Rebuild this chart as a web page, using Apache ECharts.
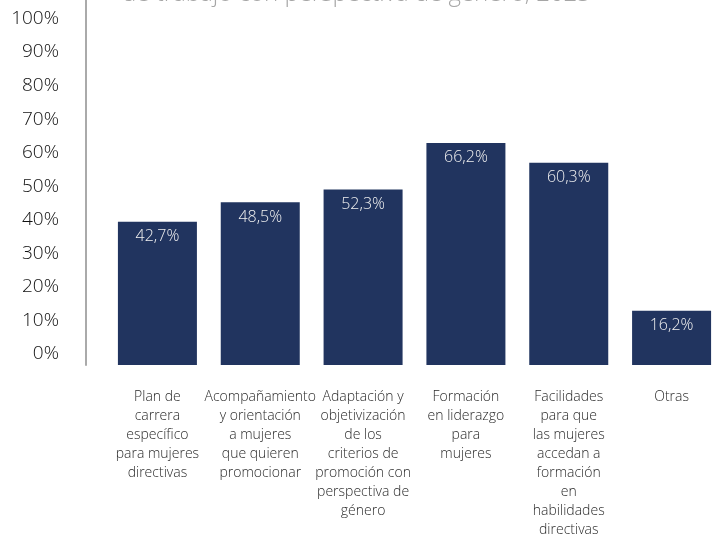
<!DOCTYPE html>
<html>
<head>
<meta charset="utf-8">
<script src="https://cdn.jsdelivr.net/npm/echarts@6/dist/echarts.min.js"></script>
<style>html,body{margin:0;padding:0;background:#fff}#c{width:723px;height:540px}</style>
</head>
<body>
<div id="c"></div>
<script>
var categories = [
  "Plan de\ncarrera\nespecífico\npara mujeres\ndirectivas",
  "Acompañamiento\ny orientación\na mujeres\nque quieren\npromocionar",
  "Adaptación y\nobjetivización\nde los\ncriterios de\npromoción con\nperspectiva de\ngénero",
  "Formación\nen liderazgo\npara\nmujeres",
  "Facilidades\npara que\nlas mujeres\naccedan a\nformación\nen\nhabilidades\ndirectivas",
  "Otras"
];
var values = [42.7, 48.5, 52.3, 66.2, 60.3, 16.2];
var titleText = "de trabajo con perspectiva de género, 2023";

var FONT = '"Open Sans", Lato, sans-serif';
var chart = echarts.init(document.getElementById('c'));
chart.setOption({
  animation: false,
  textStyle: { fontFamily: FONT },
  title: {
    text: titleText,
    left: 117,
    top: -23,
    textStyle: { fontSize: 24, fontWeight: 300, color: '#a6a6a6', fontFamily: FONT }
  },
  grid: { left: 106, right: 0, top: 0, bottom: 174.5, containLabel: false },
  xAxis: {
    type: 'category',
    data: categories,
    axisLine: { show: false },
    axisTick: { show: false },
    axisLabel: {
      interval: 0,
      margin: 23,
      fontSize: 14,
      fontWeight: 300,
      lineHeight: 19,
      color: '#2a2a2a',
      verticalAlign: 'top'
    }
  },
  yAxis: {
    type: 'value',
    min: 0,
    max: 108.8,
    interval: 10,
    offset: 20,
    axisLine: { show: true, lineStyle: { color: '#aaaaaa', width: 2 } },
    axisTick: { show: false },
    splitLine: { show: false },
    axisLabel: {
      formatter: '{value}%',
      showMaxLabel: false,
      fontSize: 19,
      fontWeight: 300,
      color: '#111',
      margin: 27,
      verticalAlign: 'bottom',
      lineHeight: 22
    }
  },
  series: [{
    type: 'bar',
    data: values,
    barWidth: 79,
    itemStyle: { color: '#21345f' },
    label: {
      show: true,
      position: 'insideTop',
      distance: 7,
      fontSize: 16,
      fontWeight: 300,
      color: '#f0f0f0',
      formatter: function (p) { return p.value.toFixed(1).replace('.', ',') + '%'; }
    }
  }]
});
</script>
</body>
</html>
